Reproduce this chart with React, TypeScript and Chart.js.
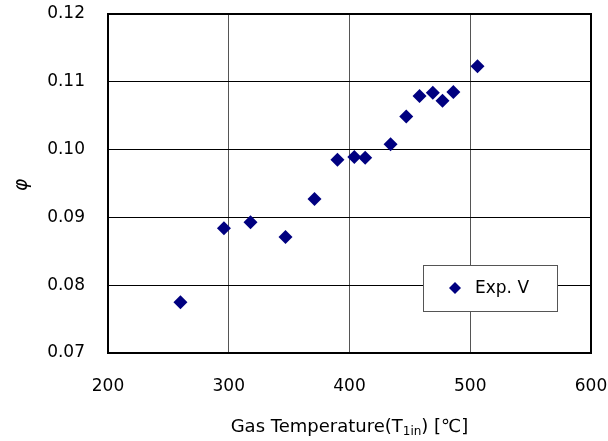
import React, { useEffect, useRef } from "react";
import { Chart, registerables } from "chart.js";

Chart.register(...registerables);

const seriesLabel = "Exp. V";
const gasTemperature = [260, 296, 318, 347, 371, 390, 404, 413, 434, 447, 458, 469, 477, 486, 506];
const phiValues = [0.0775, 0.0884, 0.0893, 0.0871, 0.0927, 0.0985, 0.0989, 0.0988, 0.1008, 0.1049, 0.1079, 0.1084, 0.1072, 0.1085, 0.1123];
const xRange = [200, 600];
const yRange = [0.07, 0.12];
const xTitleParts = ["Gas Temperature(T", "1in", ") [℃]"];
const yTitle = "φ";

const FONT = '"DejaVu Sans", "Noto Sans CJK JP", sans-serif';
const MARKER = "#000080";

const framePlugin = {
  id: "frame",
  beforeDatasetsDraw(chart: any) {
    const { ctx, chartArea: a } = chart;
    ctx.save();
    ctx.strokeStyle = "#000";
    ctx.lineWidth = 2;
    ctx.strokeRect(a.left, a.top, a.right - a.left, a.bottom - a.top);
    ctx.restore();
  },
  afterDraw(chart: any) {
    const { ctx, chartArea: a } = chart;
    ctx.save();
    ctx.fillStyle = "#000";
    ctx.textBaseline = "alphabetic";
    const big = `18px ${FONT}`;
    const small = `12px ${FONT}`;
    ctx.font = big;
    const w1 = ctx.measureText(xTitleParts[0]).width;
    const w3 = ctx.measureText(xTitleParts[2]).width;
    ctx.font = small;
    const w2 = ctx.measureText(xTitleParts[1]).width;
    const total = w1 + w2 + w3;
    let x = (a.left + a.right) / 2 - total / 2;
    const base = 432;
    ctx.font = big;
    ctx.textAlign = "left";
    ctx.fillText(xTitleParts[0], x, base);
    x += w1;
    ctx.font = small;
    ctx.fillText(xTitleParts[1], x, base + 3);
    x += w2;
    ctx.font = big;
    ctx.fillText(xTitleParts[2], x, base);
    // y title
    ctx.save();
    ctx.translate(22, 185);
    ctx.rotate(-Math.PI / 2);
    ctx.font = `italic 19px ${FONT}`;
    ctx.textAlign = "center";
    ctx.textBaseline = "middle";
    ctx.fillText(yTitle, 0, 0);
    ctx.restore();
    // legend box
    const lx = 423, ly = 265, lw = 134, lh = 46;
    ctx.fillStyle = "#fff";
    ctx.fillRect(lx, ly, lw, lh);
    ctx.strokeStyle = "#555";
    ctx.lineWidth = 1;
    ctx.strokeRect(lx + 0.5, ly + 0.5, lw, lh);
    const cy = ly + lh / 2;
    ctx.fillStyle = MARKER;
    ctx.beginPath();
    const r = 6;
    const cx = 455;
    ctx.moveTo(cx, cy - r);
    ctx.lineTo(cx + r, cy);
    ctx.lineTo(cx, cy + r);
    ctx.lineTo(cx - r, cy);
    ctx.closePath();
    ctx.fill();
    ctx.fillStyle = "#000";
    ctx.font = `17px ${FONT}`;
    ctx.textAlign = "left";
    ctx.textBaseline = "middle";
    ctx.fillText(chart.data.datasets[0].label, 475, cy + 1);
    ctx.restore();
  },
};

export default function App() {
  const ref = useRef<HTMLCanvasElement | null>(null);
  useEffect(() => {
    if (!ref.current) return;
    const chart = new Chart(ref.current, {
      type: "scatter",
      data: {
        datasets: [
          {
            label: seriesLabel,
            data: gasTemperature.map((t, i) => ({ x: t, y: phiValues[i] })),
            pointStyle: "rectRot",
            pointRadius: 7,
            pointBackgroundColor: MARKER,
            pointBorderColor: MARKER,
            pointBorderWidth: 0,
          },
        ],
      },
      options: {
        animation: false,
        responsive: false,
        devicePixelRatio: 1,
        layout: { padding: { top: 14, right: 17, left: 0, bottom: 0 } },
        plugins: { legend: { display: false }, tooltip: { enabled: false } },
        scales: {
          x: {
            type: "linear",
            min: xRange[0],
            max: xRange[1],
            afterFit(scale: any) {
              scale.height = 88;
              scale.paddingLeft = 0;
              scale.paddingRight = 0;
            },
            ticks: {
              stepSize: 100,
              padding: 23,
              color: "#000",
              font: { size: 17, family: FONT },
            },
            grid: { color: "#555", lineWidth: 1, drawTicks: false },
            border: { display: false },
          },
          y: {
            type: "linear",
            min: yRange[0],
            max: yRange[1],
            afterFit(scale: any) {
              scale.width = 108;
              scale.paddingTop = 0;
              scale.paddingBottom = 0;
            },
            ticks: {
              stepSize: 0.01,
              padding: 23,
              color: "#000",
              font: { size: 17, family: FONT },
              callback: (v: any) => Number(v).toFixed(2),
            },
            grid: { color: "#000", lineWidth: 1, drawTicks: false },
            border: { display: false },
          },
        },
      },
      plugins: [framePlugin],
    });
    return () => chart.destroy();
  }, []);
  return (
    <div style={{ position: "fixed", left: 0, top: 0, width: 608, height: 441, background: "#fff" }}>
      <canvas ref={ref} width={608} height={441} style={{ width: 608, height: 441 }} />
    </div>
  );
}
